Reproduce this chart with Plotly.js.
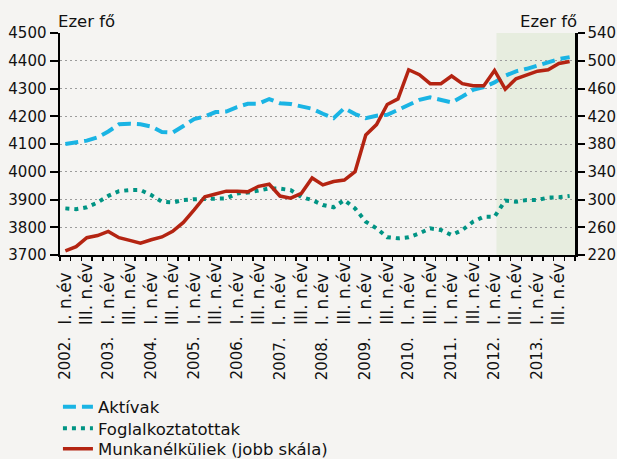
<!DOCTYPE html>
<html>
<head>
<meta charset="utf-8">
<script src="https://cdn.plot.ly/plotly-3.0.1.min.js"></script>
<style>html,body{margin:0;padding:0;background:#f5f4f2;}</style>
</head>
<body>
<div id="chart" style="width:617px;height:459px;"></div>
<script>
// Quarters 2002 Q1 .. 2013 Q4
const years = ["2002.","2003.","2004.","2005.","2006.","2007.","2008.","2009.","2010.","2011.","2012.","2013."];
const quarterLabels = ["I. n.év","III. n.év"];
const aktivak = [4100,4105,4112,4124,4145,4171,4173,4171,4163,4143,4141,4165,4190,4199,4215,4217,4233,4245,4245,4262,4247,4244,4236,4227,4209,4193,4229,4208,4193,4202,4205,4223,4244,4259,4268,4259,4250,4271,4295,4305,4322,4346,4362,4371,4382,4394,4406,4413];
const foglalkoztatottak = [3868,3865,3872,3889,3913,3930,3934,3934,3916,3892,3889,3898,3901,3901,3901,3904,3922,3925,3932,3940,3939,3934,3909,3898,3880,3872,3898,3868,3820,3796,3764,3760,3764,3778,3796,3790,3772,3790,3820,3838,3838,3896,3892,3898,3898,3907,3908,3913];
const munkanelkuliek = [226,232,245,248,254,245,241,237,242,246,254,267,285,304,308,312,312,311,319,322,305,302,309,331,321,326,328,340,393,408,437,445,487,480,467,467,478,467,464,464,486,459,474,480,485,487,496,499];
const seriesNames = ["Aktívak","Foglalkoztatottak","Munkanélküliek (jobb skála)"];
const forecastStart = 40.18; // shaded period start (category index)

const n = aktivak.length;
const idx = aktivak.map((_, i) => i);

const traces = [
  {x: idx, y: aktivak, name: seriesNames[0], type: 'scatter', mode: 'lines', legend: 'legend',
   line: {color: '#1ab4e4', width: 4, dash: '13px,6px'}},
  {x: idx, y: foglalkoztatottak, name: seriesNames[1], type: 'scatter', mode: 'lines', legend: 'legend2',
   line: {color: '#009484', width: 4, dash: '4px,5px'}},
  {x: idx, y: munkanelkuliek, name: seriesNames[2], type: 'scatter', mode: 'lines', yaxis: 'y2', legend: 'legend3',
   line: {color: '#b42412', width: 3.5}}
];

const annotations = [];
const labelFont = {family: 'DejaVu Sans', size: 15, color: '#111'};
for (let i = 0; i < n; i += 2) {
  annotations.push({x: i, xref: 'x', y: -0.3243, yref: 'paper', text: quarterLabels[(i / 2) % 2],
    textangle: -90, xanchor: 'center', yanchor: 'bottom', showarrow: false,
    font: {family: 'DejaVu Sans', size: 17, color: '#111'}});
}
years.forEach((yr, k) => {
  annotations.push({x: k * 4, xref: 'x', y: -0.36, yref: 'paper', text: yr,
    textangle: -90, xanchor: 'center', yanchor: 'top', showarrow: false, font: labelFont});
});
annotations.push({x: -0.008, xref: 'paper', y: 1.05, yref: 'paper', text: 'Ezer fő', xanchor: 'left', yanchor: 'middle', showarrow: false, font: {family: 'DejaVu Sans', size: 16.5, color: '#111'}});
annotations.push({x: 1.008, xref: 'paper', y: 1.05, yref: 'paper', text: 'Ezer fő', xanchor: 'right', yanchor: 'middle', showarrow: false, font: {family: 'DejaVu Sans', size: 16.5, color: '#111'}});

const boundaries = [];
for (let k = 0; k <= n; k++) boundaries.push(k - 0.5);

const legendBase = {x: -0.004, xanchor: 'left', yanchor: 'top', bgcolor: 'rgba(0,0,0,0)',
  font: {family: 'DejaVu Sans', size: 16.5, color: '#111'}};

const layout = {
  width: 617, height: 459,
  paper_bgcolor: '#f5f4f2', plot_bgcolor: 'rgba(0,0,0,0)',
  margin: {l: 60, r: 42, t: 33, b: 204, pad: 0, autoexpand: false},
  font: {family: 'DejaVu Sans', size: 15, color: '#111'},
  showlegend: true,
  legend: Object.assign({}, legendBase, {y: -0.6058}),
  legend2: Object.assign({}, legendBase, {y: -0.7027}),
  legend3: Object.assign({}, legendBase, {y: -0.7950}),
  xaxis: {range: [-0.5, n - 0.5], showgrid: false, zeroline: false, showline: true, linecolor: '#000', linewidth: 2,
    tickvals: boundaries, ticktext: boundaries.map(() => ''), ticks: 'outside', ticklen: 4, tickwidth: 1.5, tickcolor: '#000', showticklabels: false},
  yaxis: {range: [3700, 4500], dtick: 100, tick0: 3700, ticks: 'outside', ticklen: 8, tickwidth: 2, tickcolor: '#000',
    showline: true, linewidth: 2.5, linecolor: '#000', showgrid: true, gridcolor: '#9c9c9c', griddash: '2px,3px', gridwidth: 1,
    zeroline: false, tickfont: labelFont},
  yaxis2: {overlaying: 'y', side: 'right', range: [220, 540], dtick: 40, tick0: 220, ticks: 'outside', ticklen: 7, tickwidth: 2, tickcolor: '#000',
    showline: true, linewidth: 2.5, linecolor: '#000', showgrid: false, zeroline: false, tickfont: labelFont},
  shapes: [{type: 'rect', xref: 'x', yref: 'paper', x0: forecastStart, x1: n - 0.5, y0: 0, y1: 1,
    fillcolor: '#e7eddf', line: {width: 0}, layer: 'below'}],
  annotations: annotations
};

Plotly.newPlot('chart', traces, layout, {displayModeBar: false, staticPlot: true});
</script>
</body>
</html>
